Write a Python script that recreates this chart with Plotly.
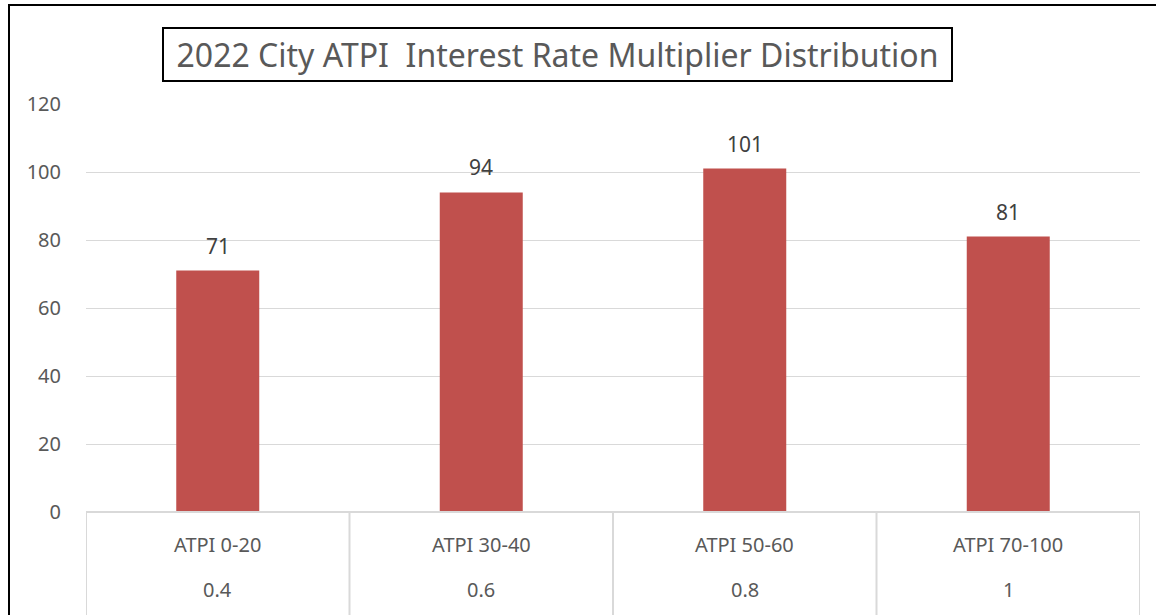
import plotly.graph_objects as go

categories = ["ATPI 0-20", "ATPI 30-40", "ATPI 50-60", "ATPI 70-100"]
multipliers = ["0.4", "0.6", "0.8", "1"]
counts = [71, 94, 101, 81]
title_text = "2022 City ATPI  Interest Rate Multiplier Distribution"

BAR = "#C0504D"
TXT = "#595959"
GRID = "#D9D9D9"
FONT = "Noto Sans"

W, H = 1156, 615
ml, mr, mt, mb = 86, 16, 104, 103
pw, ph = W - ml - mr, H - mt - mb

def px_x(p):
    return (p - ml) / pw

def px_y(p):
    return (H - mb - p) / ph

xs = list(range(len(categories)))

fig = go.Figure()
fig.add_trace(go.Bar(x=xs, y=counts, marker=dict(color=BAR, line=dict(width=0)),
                     width=0.315, hoverinfo="skip"))

ann = []
# data labels
for x, v in zip(xs, counts):
    ann.append(dict(x=x, y=v, xref="x", yref="y", text=str(v), showarrow=False,
                    yanchor="middle", yshift=25, font=dict(size=21, color="#404040", family=FONT)))
# category labels (two levels)
for x, c, m in zip(xs, categories, multipliers):
    ann.append(dict(x=x, y=px_y(544), xref="x", yref="paper", text=c, showarrow=False,
                    yanchor="middle", font=dict(size=20, color=TXT, family=FONT)))
    ann.append(dict(x=x, y=px_y(589), xref="x", yref="paper", text=m, showarrow=False,
                    yanchor="middle", font=dict(size=20, color=TXT, family=FONT)))
# title box
ann.append(dict(x=px_x(557.5), y=px_y(54.5), xref="paper", yref="paper", text=title_text,
                showarrow=False, xanchor="center", yanchor="middle",
                width=785, height=49, align="center", valign="middle",
                font=dict(size=32, color=TXT, family=FONT),
                bordercolor="black", borderwidth=2, borderpad=1, bgcolor="white"))

shapes = []
# category axis line
shapes.append(dict(type="line", xref="x", yref="paper", x0=-0.5, x1=len(xs) - 0.5, y0=0, y1=0,
                   line=dict(color=GRID, width=2)))
# dividers
for b in range(len(xs) + 1):
    shapes.append(dict(type="line", xref="x", yref="paper", x0=b - 0.5, x1=b - 0.5,
                       y0=0, y1=px_y(H + 5), line=dict(color=GRID, width=2)))
# chart outer border (left and top edges visible)
shapes.append(dict(type="line", xref="paper", yref="paper", x0=px_x(9), x1=px_x(9),
                   y0=px_y(H + 5), y1=px_y(5), line=dict(color="black", width=2)))
shapes.append(dict(type="line", xref="paper", yref="paper", x0=px_x(8), x1=px_x(W + 5),
                   y0=px_y(5), y1=px_y(5), line=dict(color="black", width=2)))

fig.update_layout(
    width=W, height=H,
    margin=dict(l=ml, r=mr, t=mt, b=mb),
    paper_bgcolor="white", plot_bgcolor="white",
    showlegend=False,
    annotations=ann, shapes=shapes,
    xaxis=dict(range=[-0.5, len(xs) - 0.5], showticklabels=False, showgrid=False,
               zeroline=False, showline=False, ticks=""),
    yaxis=dict(range=[0, 120], dtick=20, showgrid=True, gridcolor=GRID, gridwidth=1,
               zeroline=False, showline=False, ticks="", ticklabelstandoff=24,
               tickfont=dict(size=20, color=TXT, family=FONT)),
    font=dict(family=FONT),
)

fig.write_html("out.html", config={"displayModeBar": False},
               post_script="document.body.style.margin='0';document.body.style.overflow='hidden';")
